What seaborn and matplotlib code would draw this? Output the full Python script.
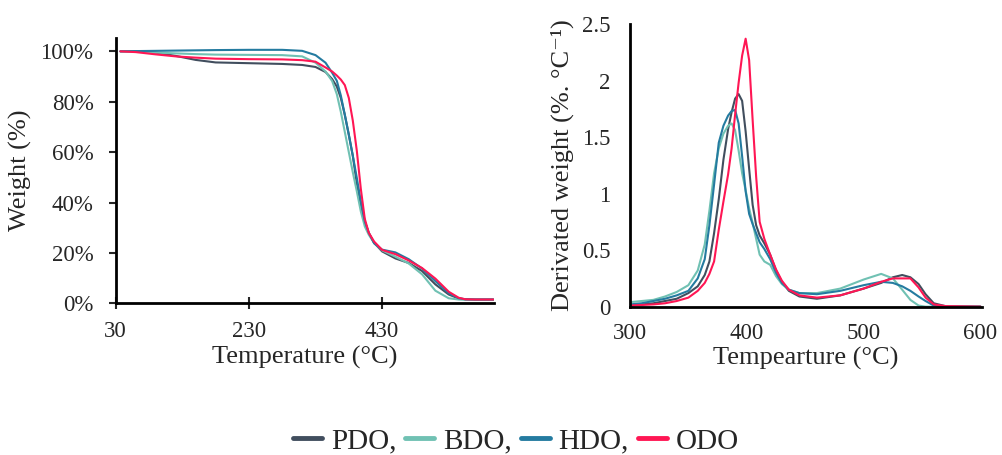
import numpy as np
import pandas as pd
import seaborn as sns
import matplotlib.pyplot as plt
from matplotlib.ticker import PercentFormatter, FuncFormatter

# Amostras e cores
amostras = ["PDO", "BDO", "HDO", "ODO"]
cores = ["#414e5e", "#70c1b3", "#247ba0", "#ff1654"]

# TGA - temperatura (°C) e massa (%)
temp_tga = [37, 60, 90, 120, 150, 180, 230, 280, 310, 330, 345, 355, 362, 368, 374, 380,
            386, 392, 398, 404, 410, 418, 430, 450, 470, 490, 510, 530, 545, 555, 570, 597]
peso_pdo = [100, 100, 99.5, 98.2, 96.6, 95.6, 95.3, 95.0, 94.6, 93.8, 91.8, 89.0, 86.0, 81.5,
            74.8, 67.0, 58.5, 47.6, 39.5, 32.5, 27.8, 24.0, 20.6, 17.8, 16.0, 12.8, 7.5, 3.5,
            1.9, 1.6, 1.5, 1.5]
peso_bdo = [100, 100, 99.5, 99.2, 98.9, 98.7, 98.6, 98.5, 98.0, 95.5, 92.0, 88.2, 83.0, 76.0,
            68.0, 60.0, 52.0, 44.5, 36.5, 30.5, 27.2, 24.0, 21.0, 18.5, 15.8, 11.5, 5.0, 2.0,
            1.5, 1.4, 1.4, 1.4]
peso_hdo = [100, 100.1, 100.2, 100.3, 100.4, 100.5, 100.6, 100.6, 100.2, 98.5, 95.5, 91.5, 88.3,
            82.5, 74.8, 66.8, 58.6, 49.8, 40.5, 32.5, 28.0, 23.8, 21.3, 20.2, 17.5, 13.8, 8.8,
            4.0, 2.0, 1.6, 1.5, 1.5]
peso_odo = [100, 99.7, 98.8, 98.0, 97.5, 97.1, 96.9, 96.8, 96.5, 95.9, 93.6, 92.0, 90.4, 88.8,
            86.6, 81.5, 72.5, 60.6, 45.5, 33.5, 28.0, 24.5, 21.2, 19.5, 17.0, 14.0, 9.8, 4.6,
            2.2, 1.6, 1.5, 1.5]

# DTG - temperatura (°C) e derivada (%/°C)
temp_dtg = [300, 310, 320, 330, 340, 350, 358, 364, 368, 372, 376, 380, 384, 387, 390, 393,
            396, 399, 402, 405, 408, 411, 415, 420, 425, 430, 436, 445, 460, 480, 500, 515,
            525, 533, 540, 547, 553, 560, 570, 600]
dtg_pdo = [0.01, 0.02, 0.03, 0.05, 0.07, 0.12, 0.18, 0.28, 0.40, 0.65, 0.95, 1.30, 1.57, 1.72,
           1.84, 1.88, 1.82, 1.55, 1.22, 0.90, 0.72, 0.63, 0.56, 0.46, 0.32, 0.22, 0.14, 0.09,
           0.07, 0.10, 0.16, 0.21, 0.26, 0.28, 0.26, 0.20, 0.11, 0.03, 0.005, 0.0]
dtg_bdo = [0.04, 0.05, 0.06, 0.09, 0.13, 0.19, 0.32, 0.55, 0.85, 1.18, 1.40, 1.53, 1.60, 1.62,
           1.56, 1.38, 1.18, 1.03, 0.87, 0.74, 0.60, 0.46, 0.40, 0.37, 0.27, 0.20, 0.15, 0.12,
           0.12, 0.16, 0.24, 0.29, 0.25, 0.15, 0.06, 0.01, 0.0, 0.0, 0.0, 0.0]
dtg_hdo = [0.02, 0.03, 0.05, 0.07, 0.10, 0.14, 0.25, 0.42, 0.72, 1.08, 1.45, 1.60, 1.69, 1.73,
           1.74, 1.62, 1.33, 1.02, 0.82, 0.73, 0.65, 0.57, 0.51, 0.42, 0.30, 0.21, 0.15, 0.12,
           0.11, 0.14, 0.19, 0.22, 0.21, 0.18, 0.14, 0.09, 0.05, 0.01, 0.0, 0.0]
dtg_odo = [0.01, 0.015, 0.02, 0.03, 0.05, 0.08, 0.14, 0.21, 0.29, 0.40, 0.68, 0.93, 1.17, 1.40,
           1.70, 1.98, 2.22, 2.37, 2.18, 1.65, 1.15, 0.75, 0.60, 0.46, 0.33, 0.23, 0.15, 0.10,
           0.08, 0.10, 0.16, 0.22, 0.25, 0.25, 0.25, 0.17, 0.08, 0.02, 0.005, 0.0]

# Montando tabelas longas
tga = pd.concat([pd.DataFrame({"T": temp_tga, "W": w, "amostra": a})
                 for a, w in zip(amostras, [peso_pdo, peso_bdo, peso_hdo, peso_odo])])
dtg = pd.concat([pd.DataFrame({"T": temp_dtg, "D": d, "amostra": a})
                 for a, d in zip(amostras, [dtg_pdo, dtg_bdo, dtg_hdo, dtg_odo])])
paleta = dict(zip(amostras, cores))

sns.set_style("white")
plt.rcParams["font.family"] = ["Liberation Serif", "DejaVu Serif"]

fig = plt.figure(figsize=(10.02, 4.55), dpi=100)
ax1 = fig.add_axes([0.1155, 0.3334, 0.3775, 0.5831])
ax2 = fig.add_axes([0.6287, 0.326, 0.351, 0.6213])

sns.lineplot(data=tga, x="T", y="W", hue="amostra", hue_order=amostras, palette=paleta,
             linewidth=1.5, ax=ax1)
sns.lineplot(data=dtg, x="T", y="D", hue="amostra", hue_order=amostras, palette=paleta,
             linewidth=1.5, ax=ax2, legend=False)

# Painel esquerdo (TGA)
ax1.set_xlim(30, 598)
ax1.set_ylim(0, 105.3)
ax1.set_xticks([30, 230, 430])
ax1.set_yticks([0, 20, 40, 60, 80, 100])
ax1.yaxis.set_major_formatter(PercentFormatter(100, decimals=0))
ax1.tick_params(axis="x", bottom=True, direction="inout", length=9, width=1.5,
                labelsize=16.5, pad=8)
ax1.tick_params(axis="y", left=True, direction="out", length=5, width=1.5,
                labelsize=16.5, pad=11)
ax1.set_xlabel("Temperature (°C)", fontsize=19, labelpad=3)
ax1.set_ylabel("Weight (%)", fontsize=19, labelpad=6)

# Painel direito (DTG)
ax2.set_xlim(300, 601)
ax2.set_ylim(0, 2.5)
ax2.set_xticks([300, 400, 500, 600])
ax2.set_yticks([0, 0.5, 1, 1.5, 2, 2.5])
ax2.yaxis.set_major_formatter(FuncFormatter(lambda v, p: f"{v:g}"))
ax2.tick_params(axis="both", length=0, labelsize=16.5)
ax2.tick_params(axis="x", pad=12)
ax2.tick_params(axis="y", pad=14)
ax2.set_xlabel("Tempearture (°C)", fontsize=19, labelpad=2)
ax2.set_ylabel("Derivated weight (%. °C⁻¹)", fontsize=19, labelpad=6)

for ax in (ax1, ax2):
    sns.despine(ax=ax)
    for lado in ("left", "bottom"):
        ax.spines[lado].set_linewidth(2)
        ax.spines[lado].set_color("black")

# Legenda comum embaixo
handles, _ = ax1.get_legend_handles_labels()
ax1.get_legend().remove()
for h in handles:
    h.set_linewidth(3.5)
fig.legend(handles, ["PDO,", "BDO,", "HDO,", "ODO"], loc="center", bbox_to_anchor=(0.515, 0.03),
           ncol=4, frameon=False, fontsize=21, handlelength=1.0, handletextpad=0.3,
           columnspacing=0.3)

fig.savefig("out.png", dpi=100)
